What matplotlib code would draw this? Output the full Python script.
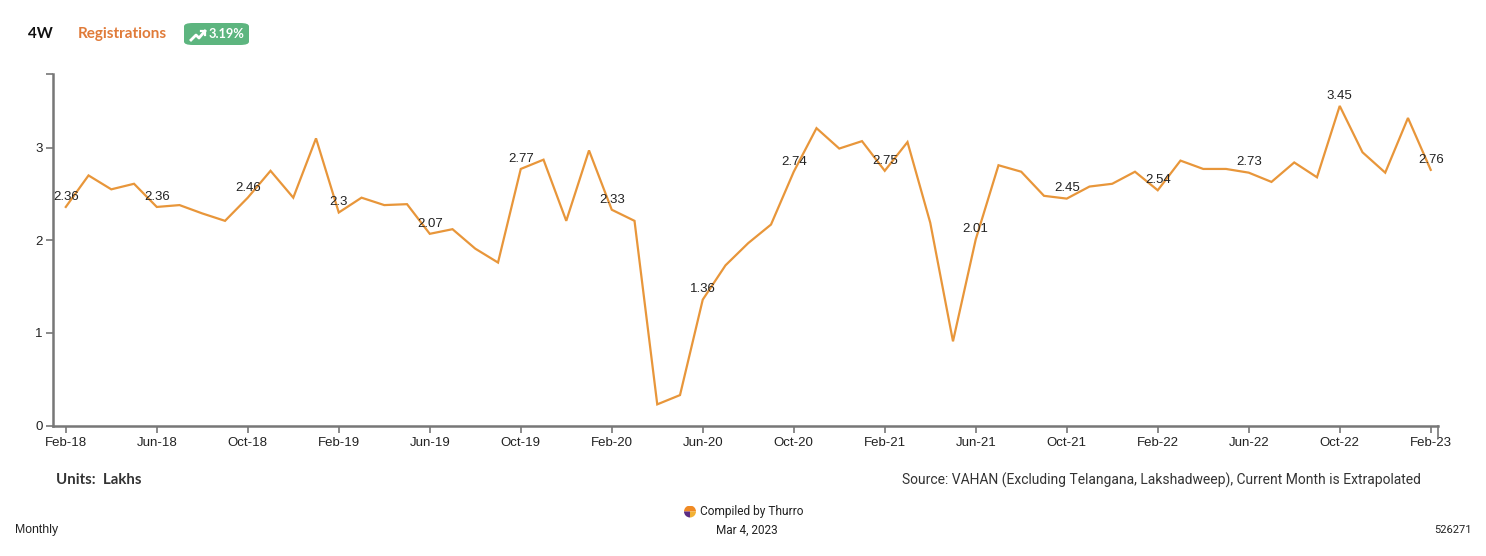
import numpy as np
import pandas as pd
import matplotlib
matplotlib.use("Agg")
import matplotlib.pyplot as plt
from matplotlib.lines import Line2D
from matplotlib.patches import FancyBboxPatch, Wedge

# monthly 4W registrations (lakhs), Feb-18 .. Feb-23
months = pd.date_range("2018-02-01", "2023-02-01", freq="MS")
values = [
    2.36, 2.70, 2.55, 2.61, 2.36, 2.38, 2.29, 2.21, 2.46, 2.75, 2.46, 3.10,
    2.30, 2.46, 2.38, 2.39, 2.07, 2.12, 1.91, 1.76, 2.77, 2.87, 2.21, 2.97,
    2.33, 2.21, 0.23, 0.33, 1.36, 1.73, 1.97, 2.17, 2.74, 3.21, 2.99, 3.07,
    2.75, 3.06, 2.19, 0.91, 2.01, 2.81, 2.74, 2.48, 2.45, 2.58, 2.61, 2.74,
    2.54, 2.86, 2.77, 2.77, 2.73, 2.63, 2.84, 2.68, 3.45, 2.95, 2.73, 3.32,
    2.76,
]
tick_step = 4
tick_labels = [m.strftime("%b-%y") for m in months[::tick_step]]
y_ticks = [0, 1, 2, 3]

LINE_C = "#E8963A"
AXIS_C = "#777777"
TXT_C = "#222222"

fig = plt.figure(figsize=(14.86, 5.56), dpi=100, facecolor="white")
ax = fig.add_axes([0.036, 0.2344, 0.9317, 0.6326])

x = np.arange(len(values))
ax.plot(x, values, color=LINE_C, lw=1.6, solid_joinstyle="miter")

# value labels on every 4th month
for i in range(0, len(values), tick_step):
    ax.annotate(f"{values[i]:g}", (x[i], values[i]), xytext=(0, 3),
                textcoords="offset points", ha="center", va="bottom",
                fontsize=9.5, color=TXT_C, family="Liberation Sans")

ymax = max(values) * 1.1
ax.set_xlim(-0.54, len(values) - 1 + 0.32)
ax.set_ylim(0, ymax)
ax.set_xticks(x[::tick_step])
ax.set_xticklabels(tick_labels)
ax.set_yticks(y_ticks + [ymax])
ax.set_yticklabels([str(v) for v in y_ticks] + [""])

for s in ("top", "right"):
    ax.spines[s].set_visible(False)
for s in ("left", "bottom"):
    ax.spines[s].set_color(AXIS_C)
    ax.spines[s].set_linewidth(1.8)
ax.tick_params(axis="both", colors=AXIS_C, length=5, width=1.2,
               labelcolor=TXT_C, labelsize=9.5)
ax.tick_params(axis="x", pad=3)
ax.tick_params(axis="y", pad=3)
for lab in ax.get_xticklabels() + ax.get_yticklabels():
    lab.set_family("Liberation Sans")
# outer tick at right end of x axis
ax.plot([1, 1], [0, -0.035], transform=ax.transAxes, color=AXIS_C,
        lw=1.2, clip_on=False)

# header
fig.text(28 / 1486, 1 - 34 / 556, "4W", fontsize=11, fontweight="bold",
         color="#111111", va="center", family="Lato")
fig.text(78 / 1486, 1 - 34 / 556, "Registrations", fontsize=11,
         fontweight="bold", color="#E07B39", va="center", family="Lato")
badge = FancyBboxPatch((184 / 1486, 1 - 45 / 556), 65 / 1486, 22 / 556,
                       boxstyle="round,pad=0,rounding_size=0.006",
                       transform=fig.transFigure, facecolor="#5DB57F",
                       edgecolor="none")
fig.add_artist(badge)
fig.add_artist(Line2D(np.array([191, 196, 199, 205]) / 1486,
                      1 - np.array([40, 35, 38, 31]) / 556,
                      color="white", lw=2, transform=fig.transFigure))
fig.add_artist(Line2D(np.array([201, 205, 205]) / 1486,
                      1 - np.array([31, 31, 35]) / 556,
                      color="white", lw=1.6, transform=fig.transFigure))
fig.text(209 / 1486, 1 - 34.5 / 556, "3.19%", fontsize=9.3, fontweight="bold",
         color="white", va="center", family="Lato")

# footer
fig.text(56 / 1486, 1 - 480 / 556, "Units:  Lakhs", fontsize=10.8,
         fontweight="bold", color="#333333", va="center", family="Lato")
fig.text(1421 / 1486, 1 - 480 / 556,
         "Source: VAHAN (Excluding Telangana, Lakshadweep), Current Month is Extrapolated",
         fontsize=10, color="#333333", ha="right", va="center", family="Roboto")
fig.text(15 / 1486, 1 - 530 / 556, "Monthly", fontsize=8.8, color=TXT_C,
         va="center", family="Liberation Sans")
fig.text(700 / 1486, 1 - 511 / 556, "Compiled by Thurro", fontsize=8.6,
         color=TXT_C, va="center", family="Roboto")
fig.text(747 / 1486, 1 - 530 / 556, "Mar 4, 2023", fontsize=8.5, color=TXT_C,
         ha="center", va="center", family="Roboto")
fig.text(1472 / 1486, 1 - 530 / 556, "526271", fontsize=8, color=TXT_C,
         ha="right", va="center", family="Roboto")

# small logo next to "Compiled by Thurro"
logo_ax = fig.add_axes([684 / 1486, 1 - 518 / 556, 12 / 1486, 13 / 556])
logo_ax.set_xlim(-1, 1)
logo_ax.set_ylim(-1, 1)
logo_ax.set_aspect("equal")
logo_ax.axis("off")
logo_ax.add_patch(Wedge((0, 0), 1, 0, 180, facecolor="#F08A24"))
logo_ax.add_patch(Wedge((0, 0), 1, 180, 270, facecolor="#5B2C83"))
logo_ax.add_patch(Wedge((0, 0), 1, 270, 360, facecolor="#F2B134"))

fig.savefig("out.png", dpi=100, facecolor="white")
